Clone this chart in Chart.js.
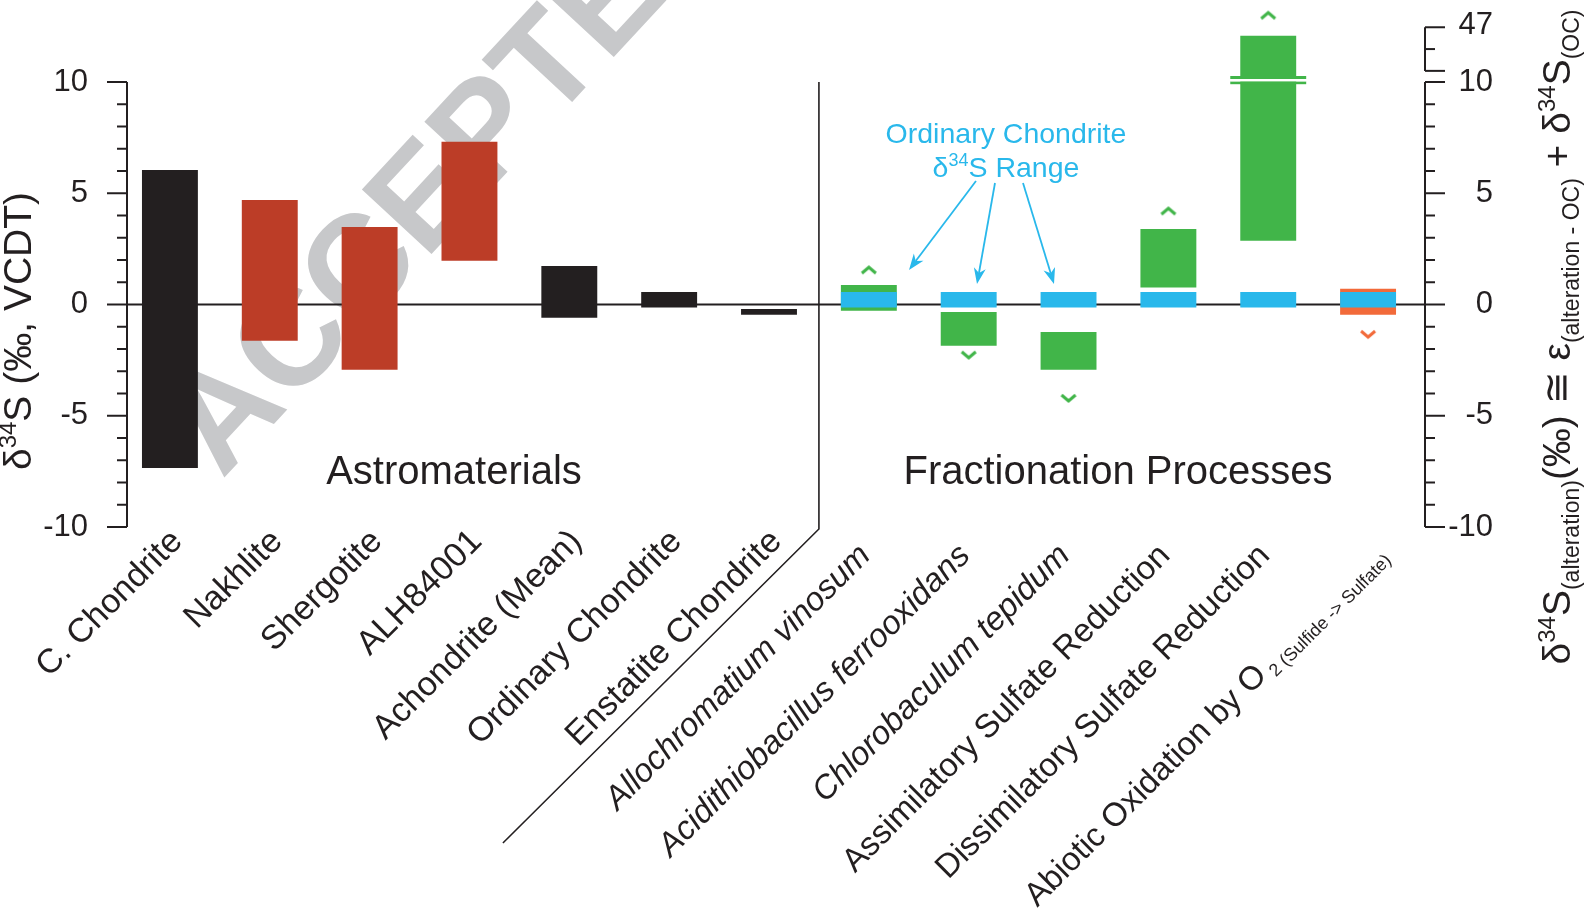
<!DOCTYPE html>
<html>
<head>
<meta charset="utf-8">
<title>Sulfur isotope ranges</title>
<script src="https://cdn.jsdelivr.net/npm/chart.js@4.4.1/dist/chart.umd.min.js"></script>
<style>
  html, body { margin: 0; padding: 0; background: #fff; }
</style>
</head>
<body>
<canvas id="sulfurChart" width="1588" height="915"></canvas>
<script>
// ---- data ----
const categories = [
  'C. Chondrite', 'Nakhlite', 'Shergotite', 'ALH84001', 'Achondrite (Mean)',
  'Ordinary Chondrite', 'Enstatite Chondrite', 'Allochromatium vinosum',
  'Acidithiobacillus ferrooxidans', 'Chlorobaculum tepidum',
  'Assimilatory Sulfate Reduction', 'Dissimilatory Sulfate Reduction',
  'Abiotic Oxidation by O'
];
const labelSubs = ['', '', '', '', '', '', '', '', '', '', '', '', ' 2 (Sulfide -> Sulfate)'];
const italicLabels = [false, false, false, false, false, false, false, true, true, true, false, false, false];

// delta34S range of each bar (permil); values above 10 live on the broken top segment
const rangeLow  = [-7.35, -1.63, -2.93, 1.97, -0.59, -0.14, -0.46, -0.28, -1.85, -2.93, 0.76, 2.87, -0.46];
const rangeHigh = [ 6.04,  4.70,  3.48, 7.32,  1.73,  0.56, -0.20,  0.88, -0.34, -1.24, 3.39, 39.8,  0.71];

// ordinary chondrite range overlaid on the processes
const ocLow  = [null, null, null, null, null, null, null, -0.14, -0.14, -0.14, -0.14, -0.14, -0.14];
const ocHigh = [null, null, null, null, null, null, null,  0.56,  0.56,  0.56,  0.56,  0.56,  0.56];

// open-ended markers (^ / v)
const caretValues = [null, null, null, null, null, null, null, 1.54, -2.26, -4.20, 4.19, 56.9, -1.33];
const caretDirs   = [null, null, null, null, null, null, null, 'up', 'down', 'down', 'up', 'up', 'down'];

const leftTicks = [-10, -5, 0, 5, 10];
const rightTicks = [-10, -5, 0, 5, 10];
const upperTicks = [47];

// ---- styles ----
const BLACK = '#231F20';
const RED = '#BC3D27';
const GREEN = '#41B549';
const BLUE = '#29B8EB';
const ORANGE = '#F26A3A';
const barColors = [BLACK, RED, RED, RED, BLACK, BLACK, BLACK, GREEN, GREEN, GREEN, GREEN, GREEN, ORANGE];
const FONT = '"Liberation Sans", Arial, Helvetica, sans-serif';

// ---- broken y scale: 10..47 squeezed above a small gap ----
const BREAK_AT = 10;
const UPPER_TOP = 47;
const BREAK_GAP = 0.5;
const UPPER_SPAN = 1.96;

class BrokenLinearScale extends Chart.LinearScale {
  getPixelForValue(value, index) {
    if (value === null || isNaN(value) || value <= BREAK_AT) {
      return super.getPixelForValue(value, index);
    }
    const p = super.getPixelForValue(BREAK_AT);
    const unit = (super.getPixelForValue(0) - p) / BREAK_AT;
    return p - unit * (BREAK_GAP + (value - BREAK_AT) / (UPPER_TOP - BREAK_AT) * UPPER_SPAN);
  }
}
BrokenLinearScale.id = 'brokenLinear';
BrokenLinearScale.defaults = Chart.LinearScale.defaults;
Chart.register(BrokenLinearScale);

function chevron(color, up) {
  const c = document.createElement('canvas');
  c.width = 22; c.height = 14;
  const g = c.getContext('2d');
  g.strokeStyle = color;
  g.lineWidth = 3;
  g.beginPath();
  if (up) { g.moveTo(4, 10); g.lineTo(11, 4); g.lineTo(18, 10); }
  else { g.moveTo(4, 4); g.lineTo(11, 10); g.lineTo(18, 4); }
  g.stroke();
  return c;
}
const caretStyles = caretDirs.map((d, i) => d ? chevron(barColors[i], d === 'up') : false);

function fontOf(r) {
  return (r.italic ? 'italic ' : '') + (r.bold ? 'bold ' : '') + r.size + 'px ' + FONT;
}

function drawRuns(ctx, runs, x, y, align) {
  let w = 0;
  runs.forEach(r => { ctx.font = fontOf(r); r.w = ctx.measureText(r.t).width; w += r.w; });
  let cx = align === 'center' ? x - w / 2 : align === 'right' ? x - w : x;
  ctx.textAlign = 'left';
  ctx.textBaseline = 'alphabetic';
  runs.forEach(r => {
    ctx.font = fontOf(r);
    ctx.fillText(r.t, cx, y + (r.dy || 0));
    cx += r.w;
  });
}

function arrow(ctx, x1, y1, x2, y2) {
  const a = Math.atan2(y2 - y1, x2 - x1);
  const L = 16, W = 6;
  const c = Math.cos(a), s = Math.sin(a);
  ctx.beginPath();
  ctx.moveTo(x1, y1);
  ctx.lineTo(x2 - c * L * 0.7, y2 - s * L * 0.7);
  ctx.stroke();
  ctx.beginPath();
  ctx.moveTo(x2, y2);
  ctx.lineTo(x2 - c * L + s * W, y2 - s * L - c * W);
  ctx.lineTo(x2 - c * L * 0.7, y2 - s * L * 0.7);
  ctx.lineTo(x2 - c * L - s * W, y2 - s * L + c * W);
  ctx.closePath();
  ctx.fill();
}

function hline(ctx, x1, x2, y) {
  ctx.beginPath(); ctx.moveTo(x1, y); ctx.lineTo(x2, y); ctx.stroke();
}
function vline(ctx, x, y1, y2) {
  ctx.beginPath(); ctx.moveTo(x, y1); ctx.lineTo(x, y2); ctx.stroke();
}

const sketchPlugin = {
  id: 'sketch',
  beforeDatasetsDraw(chart) {
    const { ctx, chartArea, scales: { y } } = chart;
    // watermark
    ctx.save();
    ctx.fillStyle = '#C7C8CA';
    ctx.font = 'bold 138px ' + FONT;
    ctx.textAlign = 'left';
    ctx.textBaseline = 'alphabetic';
    ctx.translate(222, 480);
    ctx.rotate(-47.2 * Math.PI / 180);
    ctx.fillText('ACCEPTED', 0, 0);
    ctx.restore();

    // zero line
    ctx.save();
    ctx.strokeStyle = BLACK;
    ctx.lineWidth = 2;
    hline(ctx, chartArea.left + 7, chartArea.right + 7, y.getPixelForValue(0));
    ctx.restore();
  },
  afterDatasetsDraw(chart) {
    const { ctx, chartArea, scales: { x, y } } = chart;
    const LX = chartArea.left + 7;
    const RX = chartArea.right + 7;
    ctx.save();
    ctx.strokeStyle = BLACK;
    ctx.fillStyle = BLACK;
    ctx.lineWidth = 2;

    // left axis
    vline(ctx, LX, y.getPixelForValue(-10), y.getPixelForValue(10));
    for (let v = -10; v <= 10; v++) {
      const len = v % 5 === 0 ? 20 : 10;
      hline(ctx, LX - len, LX, y.getPixelForValue(v));
    }
    ctx.font = '31px ' + FONT;
    ctx.textAlign = 'right';
    ctx.textBaseline = 'middle';
    leftTicks.forEach(v => ctx.fillText(String(v), LX - 39, y.getPixelForValue(v)));

    // right axis, lower part
    vline(ctx, RX, y.getPixelForValue(-10), y.getPixelForValue(10));
    for (let v = -10; v <= 10; v++) {
      const len = v % 5 === 0 ? 20 : 10;
      hline(ctx, RX, RX + len, y.getPixelForValue(v));
    }
    // right axis, broken upper part
    const pb = y.getPixelForValue(BREAK_AT + 1e-6);
    const pt = y.getPixelForValue(UPPER_TOP);
    vline(ctx, RX, pb, pt);
    hline(ctx, RX, RX + 20, pb);
    hline(ctx, RX, RX + 10, y.getPixelForValue((BREAK_AT + UPPER_TOP) / 2));
    hline(ctx, RX, RX + 20, pt);
    ctx.textAlign = 'right';
    rightTicks.forEach(v => ctx.fillText(String(v), RX + 68, y.getPixelForValue(v)));
    upperTicks.forEach(v => ctx.fillText(String(v), RX + 68, y.getPixelForValue(v) - 2));

    // separator between the two groups
    const sx = (x.getPixelForValue(6) + x.getPixelForValue(7)) / 2;
    const sb = y.getPixelForValue(-10) + 2;
    ctx.lineWidth = 1.6;
    ctx.beginPath();
    ctx.moveTo(sx, y.getPixelForValue(10));
    ctx.lineTo(sx, sb);
    ctx.lineTo(sx - 316, sb + 314);
    ctx.stroke();

    // break marks on the dissimilatory bar
    const bar = chart.getDatasetMeta(2).data[11];
    if (bar) {
      const yb = y.getPixelForValue(BREAK_AT) - 2;
      const half = bar.width / 2 + 10;
      ctx.fillStyle = GREEN;
      ctx.fillRect(bar.x - half, yb - 4, half * 2, 3);
      ctx.fillRect(bar.x - half, yb + 1.4, half * 2, 2.8);
      ctx.fillStyle = '#fff';
      ctx.fillRect(bar.x - half, yb - 1, half * 2, 2.4);
    }
    ctx.restore();
  },
  afterDraw(chart) {
    const { ctx, scales: { x } } = chart;
    ctx.save();
    ctx.fillStyle = BLACK;

    // group titles
    ctx.font = '40px ' + FONT;
    ctx.textAlign = 'center';
    ctx.textBaseline = 'alphabetic';
    ctx.fillText('Astromaterials', 454, 484);
    ctx.fillText('Fractionation Processes', 1118, 484);

    // rotated category labels
    categories.forEach((lab, i) => {
      const cx = x.getPixelForValue(i);
      const frac = i >= 7;
      let ax = cx + (frac ? 3 : 14), ay = frac ? 557 : 543;
      const runs = [{ t: lab, size: frac ? 33 : 34, italic: italicLabels[i] }];
      if (labelSubs[i]) {
        runs.push({ t: labelSubs[i], size: 18, dy: 6 });
        ax = cx + 20; ay = 557;
      }
      ctx.save();
      ctx.translate(ax, ay);
      ctx.rotate(-Math.PI / 4);
      drawRuns(ctx, runs, 0, 0, 'right');
      ctx.restore();
    });

    // left axis title
    ctx.save();
    ctx.translate(31, 331);
    ctx.rotate(-Math.PI / 2);
    drawRuns(ctx, [
      { t: 'δ', size: 39 }, { t: '34', size: 24, dy: -15 }, { t: 'S (‰, VCDT)', size: 39 }
    ], 0, 0, 'center');
    ctx.restore();

    // right axis title
    ctx.save();
    ctx.translate(1570, 337);
    ctx.rotate(-Math.PI / 2);
    drawRuns(ctx, [
      { t: 'δ', size: 39 }, { t: '34', size: 24, dy: -15 }, { t: 'S', size: 39 },
      { t: '(alteration)', size: 23, dy: 9 },
      { t: '(‰)', size: 39 }, { t: ' ≅ ', size: 39 }, { t: 'ε', size: 39 },
      { t: '(alteration - OC)', size: 23, dy: 9 },
      { t: ' + ', size: 39 }, { t: 'δ', size: 39 }, { t: '34', size: 24, dy: -15 }, { t: 'S', size: 39 },
      { t: '(OC)', size: 23, dy: 9 }
    ], 0, 0, 'center');
    ctx.restore();

    // annotation
    ctx.fillStyle = BLUE;
    ctx.strokeStyle = BLUE;
    ctx.lineWidth = 1.8;
    drawRuns(ctx, [{ t: 'Ordinary Chondrite', size: 28.5 }], 1006, 143, 'center');
    drawRuns(ctx, [{ t: 'δ', size: 28.5 }, { t: '34', size: 18, dy: -11 }, { t: 'S Range', size: 28.5 }], 1006, 177, 'center');
    arrow(ctx, 976, 181, 909, 270);
    arrow(ctx, 995, 183, 977, 284);
    arrow(ctx, 1023, 183, 1054, 284);
    ctx.restore();
  }
};

new Chart(document.getElementById('sulfurChart'), {
  type: 'bar',
  data: {
    labels: categories,
    datasets: [
      {
        type: 'line',
        label: 'Open-ended range',
        data: caretValues,
        showLine: false,
        pointStyle: caretStyles,
        // large radius only so the point still counts as inside the area above the break
        pointRadius: 80,
        pointHoverRadius: 80,
        pointBorderWidth: 0,
        clip: false,
        order: 0
      },
      {
        label: 'Ordinary chondrite range',
        data: ocHigh.map((h, i) => h === null ? null : [ocLow[i], h]),
        backgroundColor: BLUE,
        grouped: false,
        clip: false,
        order: 1
      },
      {
        label: 'δ34S range',
        data: rangeHigh.map((h, i) => [rangeLow[i], h]),
        backgroundColor: barColors,
        grouped: false,
        clip: false,
        order: 2
      }
    ]
  },
  options: {
    responsive: false,
    animation: false,
    devicePixelRatio: 1,
    events: [],
    layout: { padding: { left: 120, right: 170, top: 82, bottom: 388 } },
    datasets: {
      bar: { barPercentage: 0.56, categoryPercentage: 1, borderWidth: 0, inflateAmount: 0 }
    },
    plugins: { legend: { display: false }, tooltip: { enabled: false } },
    scales: {
      x: { display: false },
      y: { type: 'brokenLinear', min: -10, max: 10, display: false }
    }
  },
  plugins: [sketchPlugin]
});
</script>
</body>
</html>
